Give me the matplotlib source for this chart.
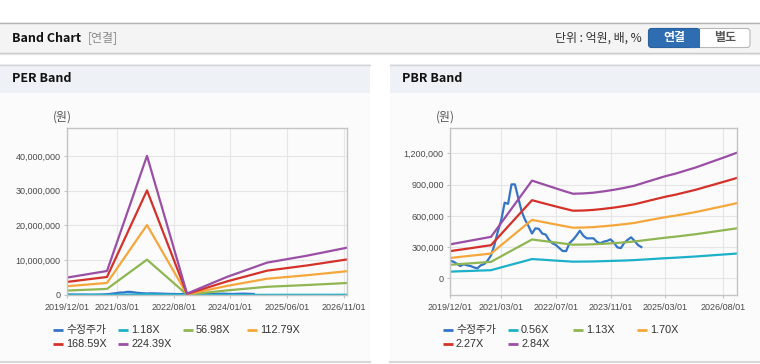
import matplotlib
matplotlib.use("Agg")
import matplotlib.pyplot as plt
import pandas as pd
from matplotlib.patches import Rectangle, FancyBboxPatch
from matplotlib.ticker import FuncFormatter

KR = ['Noto Sans CJK KR', 'DejaVu Sans']
LAT = ['Liberation Sans', 'Noto Sans CJK KR']
plt.rcParams['font.family'] = KR

# ---- data -------------------------------------------------------------
colors = ['#3575c8', '#1db1c9', '#8fb652', '#f5a73c', '#d5312b', '#9a4fa5']

# adjusted stock price, monthly 2019/12 .. 2024/08
price_dates = pd.date_range('2019-12-01', '2024-08-01', freq='MS')
price = [169000, 160000, 140000, 118000, 135000, 125000, 118000, 105000, 96000, 125000,
         137000, 170000, 220000, 320000, 450000, 560000, 726000, 715000, 902000, 902000,
         768000, 640000, 560000, 500000, 430000, 480000, 475000, 430000, 420000, 368000,
         336000, 320000, 290000, 262000, 262000, 340000, 370000, 410000, 457000, 410000,
         384000, 384000, 384000, 350000, 336000, 352000, 360000, 374000, 340000, 297000,
         290000, 340000, 370000, 394000, 360000, 320000, 300000]

# PER band, yearly
per_dates = pd.date_range('2019-12-01', '2026-12-01', freq='12MS')
per_labels = ['수정주가', '1.18X', '56.98X', '112.79X', '168.59X', '224.39X']
per_118 = [26000, 36000, 210000, 2000, 27000, 49000, 59000, 72000]
per_5698 = [1270000, 1750000, 10160000, 100000, 1320000, 2360000, 2870000, 3450000]
per_11279 = [2510000, 3470000, 20110000, 200000, 2610000, 4680000, 5680000, 6840000]
per_16859 = [3760000, 5180000, 30060000, 300000, 3910000, 6990000, 8490000, 10220000]
per_22439 = [5000000, 6900000, 40000000, 400000, 5200000, 9300000, 11300000, 13600000]
per_ticks = ['2019/12/01', '2021/03/01', '2022/08/01', '2024/01/01', '2025/06/01', '2026/11/01']

# PBR band, quarterly
pbr_dates = pd.date_range('2019-12-01', '2026-12-01', freq='3MS')
pbr_labels = ['수정주가', '0.56X', '1.13X', '1.70X', '2.27X', '2.84X']
pbr_056 = [64000, 68000, 71000, 75000, 78000, 105000, 132000, 158000, 185000, 179000,
           172000, 166000, 160000, 161000, 162000, 165000, 168000, 171000, 175000, 181000,
           187000, 193000, 198000, 204000, 210000, 217000, 224000, 231000, 238000]
pbr_113 = [130000, 137000, 144000, 151000, 158000, 212000, 266000, 319000, 373000, 360000,
           348000, 335000, 323000, 324000, 327000, 332000, 338000, 345000, 354000, 366000,
           378000, 390000, 400000, 412000, 424000, 438000, 452000, 466000, 480000]
pbr_170 = [195000, 206000, 217000, 227000, 238000, 319000, 400000, 481000, 561000, 542000,
           523000, 504000, 486000, 488000, 492000, 500000, 509000, 520000, 532000, 551000,
           569000, 587000, 602000, 619000, 637000, 658000, 679000, 700000, 722000]
pbr_227 = [261000, 275000, 289000, 304000, 318000, 426000, 534000, 642000, 750000, 724000,
           698000, 673000, 649000, 651000, 657000, 667000, 679000, 694000, 711000, 735000,
           759000, 783000, 803000, 827000, 851000, 879000, 907000, 935000, 964000]
pbr_284 = [326000, 344000, 362000, 380000, 398000, 533000, 668000, 803000, 938000, 906000,
           874000, 842000, 812000, 815000, 822000, 835000, 850000, 868000, 889000, 920000,
           950000, 980000, 1005000, 1035000, 1065000, 1100000, 1135000, 1170000, 1206000]
pbr_ticks = ['2019/12/01', '2021/03/01', '2022/07/01', '2023/11/01', '2025/03/01', '2026/08/01']


def months(d):
    return [(x.year - 2019) * 12 + x.month - 12 for x in d]


def tick_months(labels):
    out = []
    for s in labels:
        y, m = s.split('/')[:2]
        out.append((int(y) - 2019) * 12 + int(m) - 12)
    return out


# ---- figure & background ---------------------------------------------
fig = plt.figure(figsize=(7.6, 3.64), dpi=100)
bg = fig.add_axes([0, 0, 1, 1], zorder=0)
bg.set_xlim(0, 760)
bg.set_ylim(364, 0)
bg.axis('off')

# top header bar
bg.add_patch(Rectangle((0, 22), 760, 31, fc='#f4f4f4', ec='none'))
bg.plot([0, 760], [22.5, 22.5], color='#b4b4b4', lw=1)
bg.plot([0, 760], [53, 53], color='#c6c6c6', lw=1)
bg.plot([0, 760], [54, 54], color='#e6e6e6', lw=1)
bg.text(12, 38, 'Band Chart', fontsize=9, fontweight='bold', color='#111', va='center')
bg.text(88, 38, '[연결]', fontsize=8.6, color='#8a8a8a', va='center')
bg.text(642, 38, '단위 : 억원, 배, %', fontsize=8.6, color='#333', va='center', ha='right')

bg.add_patch(FancyBboxPatch((648.5, 28.5), 101.5, 19, boxstyle='round,pad=0,rounding_size=3',
                            fc='white', ec='#b8b8b8', lw=0.8))
bg.add_patch(FancyBboxPatch((648.5, 28.5), 51, 19, boxstyle='round,pad=0,rounding_size=3',
                            fc='#2f6db3', ec='#2a619f', lw=0.8))
bg.add_patch(Rectangle((690, 28.5), 9.5, 19, fc='#2f6db3', ec='none'))
bg.text(674, 38, '연결', fontsize=8.6, fontweight='bold', color='white', ha='center', va='center')
bg.text(725, 38, '별도', fontsize=8.6, fontweight='bold', color='#555', ha='center', va='center')

# panels
for x0, x1, title in [(0, 370, 'PER Band'), (390, 760, 'PBR Band')]:
    bg.add_patch(Rectangle((x0, 64), x1 - x0, 298, fc='#fbfbfb', ec='none'))
    bg.add_patch(Rectangle((x0, 64), x1 - x0, 29, fc='#eef2f7', ec='none'))
    bg.plot([x0, x1], [64.5, 64.5], color='#d4d4d4', lw=1)
    bg.plot([x0, x1], [361.5, 361.5], color='#d8d8d8', lw=1.5)
    bg.text(x0 + 12, 79, title, fontsize=9, fontweight='bold', color='#111', va='center')


def style_axes(ax, ticks, tick_labels, ylim, yticks):
    ax.set_facecolor('none')
    ax.set_xlim(0, 84)
    ax.set_ylim(*ylim)
    ax.set_xticks(tick_months(ticks))
    ax.set_xticklabels(tick_labels)
    ax.set_yticks(yticks)
    ax.yaxis.set_major_formatter(FuncFormatter(lambda v, p: f'{int(v):,}'))
    ax.grid(True, color='#e6e6e6', lw=0.8)
    ax.set_axisbelow(True)
    for s in ax.spines.values():
        s.set_color('#c4c4c4')
        s.set_linewidth(1)
    ax.tick_params(length=2.5, color='#c4c4c4', labelsize=6.5, labelcolor='#4a4a4a', pad=2)
    ax.tick_params(axis='x', pad=3)
    for lab in ax.get_xticklabels() + ax.get_yticklabels():
        lab.set_fontfamily('Liberation Sans')


def draw_legend(x_cols, labels):
    rows = [330, 344]
    for i, (lab, c) in enumerate(zip(labels, colors)):
        x = x_cols[i % 4]
        y = rows[i // 4]
        bg.plot([x, x + 10], [y, y], color=c, lw=2, solid_capstyle='butt')
        bg.text(x + 13, y, lab, fontsize=7.8, color='#333', va='center', family=LAT)


# ---- PER band ------------------------------------------------------
ax1 = fig.add_axes([67 / 760, 69 / 364, 280 / 760, 167 / 364], zorder=1)
xp = months(per_dates)
ax1.plot(months(price_dates), price, color=colors[0], lw=1.6)
for ys, c in zip([per_118, per_5698, per_11279, per_16859, per_22439], colors[1:]):
    ax1.plot(xp, ys, color=c, lw=1.6)
style_axes(ax1, per_ticks, per_ticks, (0, 48000000), range(0, 40000001, 10000000))
bg.text(62, 117, '(원)', fontsize=8.6, color='#555', ha='center', va='center')
draw_legend([53, 118, 183, 247], per_labels)

# ---- PBR band ------------------------------------------------------
ax2 = fig.add_axes([450 / 760, 69 / 364, 287 / 760, 167 / 364], zorder=1)
xb = months(pbr_dates)
ax2.plot(months(price_dates), price, color=colors[0], lw=1.6)
for ys, c in zip([pbr_056, pbr_113, pbr_170, pbr_227, pbr_284], colors[1:]):
    ax2.plot(xb, ys, color=c, lw=1.6)
style_axes(ax2, pbr_ticks, pbr_ticks, (-160000, 1443000), range(0, 1200001, 300000))
bg.text(445, 117, '(원)', fontsize=8.6, color='#555', ha='center', va='center')
draw_legend([443, 508, 573, 637], pbr_labels)

fig.savefig('out.png', dpi=100)
